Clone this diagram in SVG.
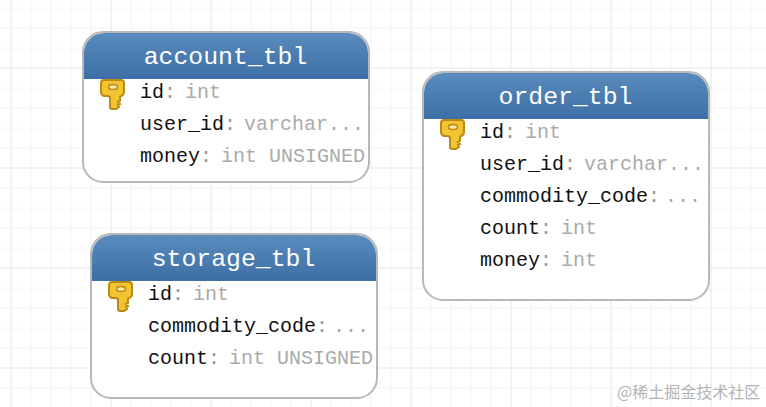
<svg xmlns="http://www.w3.org/2000/svg" width="766" height="407" viewBox="0 0 766 407">
<style>
.fine{stroke:#f4f4f4;stroke-width:1;fill:none}
.major{stroke:#e6e6e6;stroke-width:1;fill:none}
.box{fill:#fff;stroke:#b8b8b8;stroke-width:2}
.title{font-family:"Liberation Mono",monospace;font-size:24.8px;fill:#fff;text-anchor:middle}
.row{font-family:"Liberation Mono",monospace;font-size:20px;fill:#111}
.c{fill:#999}
.t{fill:#aaa}
.wm{font-family:"Noto Sans CJK SC",sans-serif;font-size:16px;fill:#b4b4b4}
</style>
<defs>
<linearGradient id="hd" x1="0" y1="0" x2="0" y2="1"><stop offset="0" stop-color="#5a8bbd"/><stop offset="1" stop-color="#3d6fa6"/></linearGradient>
<g id="key">
<path d="M3 0h16q3 0 3 3v9q0 3-3 4l-1 1v4l-2 1 2 2-2 1 1 2-3 2h-4q-2 0-2-2V17l-2-1h-4q-3-1-3-4V3q0-3 3-3z" fill="#f3c431" stroke="#b98a14" stroke-width="2"/>
<ellipse cx="11" cy="7" rx="4.500" ry="2.500" fill="#f9e9a8" stroke="#b98a14" stroke-width="1.500"/>
</g>
</defs>
<g id="grid">
<path class="fine" d="M31 0V407M51 0V407M71 0V407M91 0V407M131 0V407M151 0V407M171 0V407M191 0V407M231 0V407M251 0V407M271 0V407M291 0V407M331 0V407M351 0V407M371 0V407M391 0V407M431 0V407M451 0V407M471 0V407M491 0V407M531 0V407M551 0V407M571 0V407M591 0V407M631 0V407M651 0V407M671 0V407M691 0V407M731 0V407M751 0V407M0 8H766M0 28H766M0 48H766M0 88H766M0 108H766M0 128H766M0 148H766M0 188H766M0 208H766M0 228H766M0 248H766M0 288H766M0 308H766M0 328H766M0 348H766M0 388H766"/>
<path class="major" d="M11 0V407M111 0V407M211 0V407M311 0V407M411 0V407M511 0V407M611 0V407M711 0V407M0 68H766M0 168H766M0 268H766M0 368H766"/>
</g>
<g id="connectors"></g>
<g id="account_tbl">
<rect class="box" x="83" y="32" width="286" height="150" rx="20"/>
<path fill="url(#hd)" d="M84 79V53a20 20 0 0 1 20-20H348a20 20 0 0 1 20 20V79z"/>
<text class="title" x="225.500" y="64">account_tbl</text>
<use href="#key" x="102" y="80"/>
<text class="row" x="140" y="98">id<tspan class="c" x="164">:</tspan><tspan class="t" x="185">int</tspan></text>
<text class="row" x="140" y="130">user_id<tspan class="c" x="224">:</tspan><tspan class="t" x="244">varchar...</tspan></text>
<text class="row" x="140" y="162">money<tspan class="c" x="200">:</tspan><tspan class="t" x="221">int UNSIGNED</tspan></text>
</g>
<g id="order_tbl">
<rect class="box" x="423" y="72" width="286" height="228" rx="20"/>
<path fill="url(#hd)" d="M424 119V93a20 20 0 0 1 20-20H688a20 20 0 0 1 20 20V119z"/>
<text class="title" x="565.500" y="104">order_tbl</text>
<use href="#key" x="442" y="120"/>
<text class="row" x="480" y="138">id<tspan class="c" x="504">:</tspan><tspan class="t" x="525">int</tspan></text>
<text class="row" x="480" y="170">user_id<tspan class="c" x="564">:</tspan><tspan class="t" x="584">varchar...</tspan></text>
<text class="row" x="480" y="202">commodity_code<tspan class="c" x="648">:</tspan><tspan class="t" x="665">...</tspan></text>
<text class="row" x="480" y="234">count<tspan class="c" x="540">:</tspan><tspan class="t" x="561">int</tspan></text>
<text class="row" x="480" y="266">money<tspan class="c" x="540">:</tspan><tspan class="t" x="561">int</tspan></text>
</g>
<g id="storage_tbl">
<rect class="box" x="91" y="234" width="286" height="164" rx="20"/>
<path fill="url(#hd)" d="M92 281V255a20 20 0 0 1 20-20H356a20 20 0 0 1 20 20V281z"/>
<text class="title" x="233.500" y="266">storage_tbl</text>
<use href="#key" x="110" y="282"/>
<text class="row" x="148" y="300">id<tspan class="c" x="172">:</tspan><tspan class="t" x="193">int</tspan></text>
<text class="row" x="148" y="332">commodity_code<tspan class="c" x="316">:</tspan><tspan class="t" x="333">...</tspan></text>
<text class="row" x="148" y="364">count<tspan class="c" x="208">:</tspan><tspan class="t" x="229">int UNSIGNED</tspan></text>
</g>
<text class="wm" x="617" y="398">@稀土掘金技术社区</text>
</svg>
